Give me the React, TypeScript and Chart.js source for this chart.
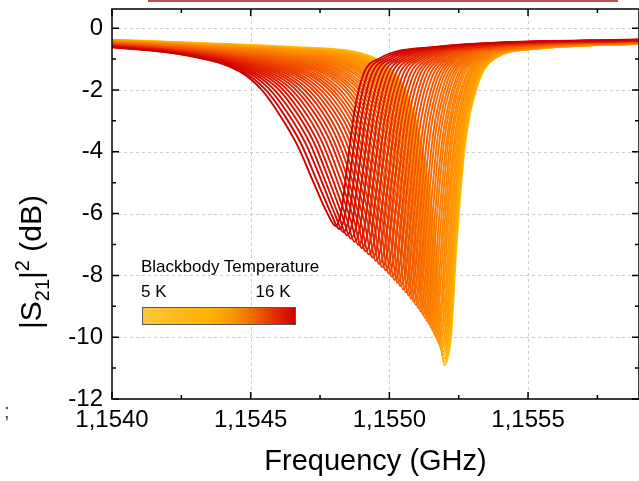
import React, { useEffect, useRef } from 'react';
import { Chart, registerables } from 'chart.js';

Chart.register(...registerables);

// Blackbody temperature of each trace (K)
const temperaturesK = [
  5, 5.25, 5.5, 5.75, 6, 6.25, 6.5, 6.75, 7, 7.25, 7.5, 7.75, 8, 8.25, 8.5, 8.75, 9, 9.25, 9.5, 9.75, 10, 10.25, 10.5,
  10.75, 11, 11.25, 11.5, 11.75, 12, 12.25, 12.5, 12.75, 13, 13.25, 13.5, 13.75, 14, 14.25, 14.5, 14.75, 15, 15.25, 15.5, 15.75, 16,
];

// Frequency samples (GHz) of each trace
const freqGHz: number[][] = [
  [1.153957, 1.154317, 1.154676, 1.154892, 1.155000, 1.155072, 1.155126, 1.155169, 1.155198, 1.155223, 1.155241, 1.155270, 1.155316, 1.155378, 1.155540, 1.155935],
  [1.153957, 1.154317, 1.154675, 1.154890, 1.154998, 1.155070, 1.155124, 1.155167, 1.155196, 1.155221, 1.155239, 1.155268, 1.155314, 1.155376, 1.155538, 1.155935],
  [1.153957, 1.154317, 1.154674, 1.154889, 1.154997, 1.155069, 1.155123, 1.155166, 1.155195, 1.155220, 1.155238, 1.155267, 1.155313, 1.155375, 1.155537, 1.155935],
  [1.153957, 1.154316, 1.154672, 1.154886, 1.154994, 1.155066, 1.155120, 1.155163, 1.155192, 1.155217, 1.155235, 1.155264, 1.155310, 1.155372, 1.155534, 1.155935],
  [1.153957, 1.154316, 1.154671, 1.154884, 1.154991, 1.155063, 1.155117, 1.155161, 1.155190, 1.155214, 1.155233, 1.155261, 1.155307, 1.155369, 1.155531, 1.155935],
  [1.153957, 1.154316, 1.154669, 1.154880, 1.154987, 1.155059, 1.155113, 1.155157, 1.155186, 1.155210, 1.155229, 1.155257, 1.155303, 1.155365, 1.155527, 1.155935],
  [1.153957, 1.154316, 1.154667, 1.154877, 1.154984, 1.155055, 1.155110, 1.155153, 1.155182, 1.155207, 1.155225, 1.155254, 1.155299, 1.155361, 1.155524, 1.155935],
  [1.153957, 1.154315, 1.154664, 1.154873, 1.154979, 1.155050, 1.155105, 1.155148, 1.155177, 1.155202, 1.155220, 1.155249, 1.155294, 1.155356, 1.155519, 1.155935],
  [1.153957, 1.154315, 1.154662, 1.154869, 1.154974, 1.155046, 1.155100, 1.155143, 1.155172, 1.155197, 1.155215, 1.155244, 1.155289, 1.155351, 1.155514, 1.155935],
  [1.153957, 1.154314, 1.154659, 1.154864, 1.154968, 1.155040, 1.155094, 1.155137, 1.155166, 1.155191, 1.155209, 1.155238, 1.155283, 1.155345, 1.155508, 1.155935],
  [1.153957, 1.154314, 1.154656, 1.154859, 1.154963, 1.155034, 1.155089, 1.155132, 1.155161, 1.155186, 1.155204, 1.155233, 1.155278, 1.155339, 1.155503, 1.155935],
  [1.153957, 1.154313, 1.154652, 1.154853, 1.154956, 1.155028, 1.155082, 1.155126, 1.155155, 1.155179, 1.155198, 1.155226, 1.155271, 1.155332, 1.155496, 1.155935],
  [1.153957, 1.154313, 1.154649, 1.154848, 1.154950, 1.155022, 1.155076, 1.155120, 1.155149, 1.155173, 1.155192, 1.155220, 1.155265, 1.155326, 1.155490, 1.155935],
  [1.153957, 1.154312, 1.154645, 1.154842, 1.154943, 1.155014, 1.155069, 1.155113, 1.155142, 1.155166, 1.155185, 1.155213, 1.155257, 1.155319, 1.155483, 1.155935],
  [1.153957, 1.154311, 1.154641, 1.154836, 1.154937, 1.155007, 1.155062, 1.155106, 1.155135, 1.155160, 1.155178, 1.155207, 1.155250, 1.155312, 1.155477, 1.155935],
  [1.153957, 1.154310, 1.154637, 1.154829, 1.154929, 1.155000, 1.155054, 1.155098, 1.155127, 1.155152, 1.155170, 1.155199, 1.155242, 1.155304, 1.155469, 1.155935],
  [1.153957, 1.154310, 1.154633, 1.154822, 1.154922, 1.154992, 1.155047, 1.155091, 1.155120, 1.155145, 1.155163, 1.155192, 1.155235, 1.155296, 1.155462, 1.155935],
  [1.153957, 1.154309, 1.154628, 1.154815, 1.154913, 1.154984, 1.155039, 1.155083, 1.155112, 1.155136, 1.155155, 1.155183, 1.155226, 1.155287, 1.155453, 1.155935],
  [1.153957, 1.154308, 1.154624, 1.154808, 1.154905, 1.154976, 1.155031, 1.155075, 1.155104, 1.155128, 1.155147, 1.155175, 1.155218, 1.155279, 1.155445, 1.155935],
  [1.153957, 1.154307, 1.154619, 1.154800, 1.154896, 1.154967, 1.155022, 1.155066, 1.155095, 1.155119, 1.155138, 1.155166, 1.155209, 1.155270, 1.155436, 1.155935],
  [1.153957, 1.154307, 1.154615, 1.154792, 1.154888, 1.154958, 1.155013, 1.155058, 1.155087, 1.155111, 1.155130, 1.155158, 1.155200, 1.155261, 1.155428, 1.155935],
  [1.153957, 1.154306, 1.154610, 1.154784, 1.154878, 1.154948, 1.155003, 1.155049, 1.155078, 1.155101, 1.155121, 1.155148, 1.155190, 1.155251, 1.155418, 1.155935],
  [1.153957, 1.154305, 1.154605, 1.154776, 1.154869, 1.154939, 1.154994, 1.155040, 1.155069, 1.155092, 1.155112, 1.155139, 1.155181, 1.155241, 1.155409, 1.155935],
  [1.153957, 1.154304, 1.154599, 1.154767, 1.154859, 1.154929, 1.154984, 1.155030, 1.155059, 1.155082, 1.155102, 1.155129, 1.155171, 1.155231, 1.155399, 1.155935],
  [1.153957, 1.154303, 1.154594, 1.154759, 1.154850, 1.154919, 1.154975, 1.155020, 1.155049, 1.155073, 1.155092, 1.155120, 1.155161, 1.155221, 1.155390, 1.155935],
  [1.153957, 1.154302, 1.154588, 1.154749, 1.154839, 1.154908, 1.154964, 1.155010, 1.155039, 1.155062, 1.155082, 1.155109, 1.155150, 1.155210, 1.155379, 1.155935],
  [1.153957, 1.154301, 1.154583, 1.154740, 1.154829, 1.154898, 1.154954, 1.155000, 1.155029, 1.155052, 1.155072, 1.155099, 1.155139, 1.155200, 1.155369, 1.155935],
  [1.153957, 1.154300, 1.154577, 1.154730, 1.154818, 1.154887, 1.154943, 1.154989, 1.155018, 1.155041, 1.155061, 1.155088, 1.155128, 1.155188, 1.155358, 1.155935],
  [1.153957, 1.154300, 1.154571, 1.154721, 1.154808, 1.154876, 1.154932, 1.154979, 1.155008, 1.155031, 1.155051, 1.155078, 1.155117, 1.155177, 1.155348, 1.155935],
  [1.153957, 1.154298, 1.154565, 1.154711, 1.154796, 1.154865, 1.154921, 1.154968, 1.154997, 1.155019, 1.155040, 1.155066, 1.155105, 1.155165, 1.155336, 1.155935],
  [1.153957, 1.154297, 1.154559, 1.154701, 1.154785, 1.154854, 1.154910, 1.154957, 1.154986, 1.155008, 1.155029, 1.155055, 1.155094, 1.155154, 1.155325, 1.155935],
  [1.153957, 1.154296, 1.154552, 1.154691, 1.154773, 1.154842, 1.154898, 1.154945, 1.154974, 1.154996, 1.155017, 1.155043, 1.155082, 1.155141, 1.155313, 1.155935],
  [1.153957, 1.154295, 1.154546, 1.154681, 1.154762, 1.154830, 1.154886, 1.154934, 1.154963, 1.154985, 1.155006, 1.155032, 1.155070, 1.155129, 1.155302, 1.155935],
  [1.153957, 1.154294, 1.154539, 1.154670, 1.154750, 1.154817, 1.154874, 1.154922, 1.154951, 1.154973, 1.154994, 1.155020, 1.155057, 1.155116, 1.155290, 1.155935],
  [1.153957, 1.154293, 1.154533, 1.154659, 1.154738, 1.154805, 1.154862, 1.154910, 1.154939, 1.154961, 1.154982, 1.155008, 1.155045, 1.155104, 1.155278, 1.155935],
  [1.153957, 1.154292, 1.154526, 1.154648, 1.154725, 1.154792, 1.154849, 1.154897, 1.154926, 1.154948, 1.154969, 1.154995, 1.155032, 1.155091, 1.155265, 1.155935],
  [1.153957, 1.154291, 1.154519, 1.154637, 1.154713, 1.154780, 1.154837, 1.154885, 1.154914, 1.154936, 1.154957, 1.154983, 1.155019, 1.155078, 1.155253, 1.155935],
  [1.153957, 1.154290, 1.154512, 1.154625, 1.154700, 1.154766, 1.154823, 1.154872, 1.154901, 1.154923, 1.154944, 1.154970, 1.155005, 1.155064, 1.155240, 1.155935],
  [1.153957, 1.154289, 1.154505, 1.154614, 1.154687, 1.154753, 1.154810, 1.154859, 1.154888, 1.154910, 1.154931, 1.154957, 1.154992, 1.155051, 1.155227, 1.155935],
  [1.153957, 1.154287, 1.154498, 1.154602, 1.154673, 1.154739, 1.154796, 1.154845, 1.154874, 1.154896, 1.154917, 1.154943, 1.154978, 1.155037, 1.155213, 1.155935],
  [1.153957, 1.154286, 1.154491, 1.154590, 1.154660, 1.154726, 1.154783, 1.154832, 1.154861, 1.154883, 1.154904, 1.154930, 1.154964, 1.155023, 1.155200, 1.155935],
  [1.153957, 1.154285, 1.154483, 1.154577, 1.154646, 1.154712, 1.154769, 1.154818, 1.154847, 1.154869, 1.154890, 1.154916, 1.154949, 1.155008, 1.155186, 1.155935],
  [1.153957, 1.154284, 1.154475, 1.154565, 1.154632, 1.154698, 1.154756, 1.154805, 1.154834, 1.154855, 1.154877, 1.154902, 1.154935, 1.154994, 1.155172, 1.155935],
  [1.153957, 1.154282, 1.154467, 1.154552, 1.154618, 1.154683, 1.154741, 1.154791, 1.154820, 1.154841, 1.154863, 1.154888, 1.154920, 1.154979, 1.155158, 1.155935],
  [1.153957, 1.154281, 1.154460, 1.154540, 1.154604, 1.154669, 1.154727, 1.154777, 1.154806, 1.154827, 1.154849, 1.154874, 1.154906, 1.154964, 1.155144, 1.155935],
];

// |S21|^2 (dB) of each trace at the frequencies above
const s21dB: number[][] = [
  [-0.36, -0.48, -0.62, -0.80, -1.30, -2.30, -4.20, -7.20, -10.90, -9.90, -7.20, -4.00, -1.90, -1.00, -0.66, -0.50],
  [-0.365, -0.49, -0.64, -0.825, -1.335, -2.335, -4.22, -7.175, -10.80, -9.81, -7.135, -3.97, -1.89, -1.00, -0.66, -0.495],
  [-0.37, -0.50, -0.66, -0.85, -1.37, -2.37, -4.24, -7.15, -10.70, -9.72, -7.07, -3.94, -1.88, -1.00, -0.66, -0.49],
  [-0.375, -0.51, -0.675, -0.88, -1.405, -2.405, -4.255, -7.12, -10.595, -9.63, -7.01, -3.91, -1.87, -1.00, -0.66, -0.49],
  [-0.38, -0.52, -0.69, -0.91, -1.44, -2.44, -4.27, -7.09, -10.49, -9.54, -6.95, -3.88, -1.86, -1.00, -0.66, -0.49],
  [-0.385, -0.53, -0.71, -0.935, -1.47, -2.47, -4.29, -7.065, -10.39, -9.445, -6.885, -3.85, -1.855, -1.00, -0.655, -0.485],
  [-0.39, -0.54, -0.73, -0.96, -1.50, -2.50, -4.31, -7.04, -10.29, -9.35, -6.82, -3.82, -1.85, -1.00, -0.65, -0.48],
  [-0.395, -0.55, -0.745, -0.99, -1.535, -2.535, -4.33, -7.01, -10.185, -9.26, -6.755, -3.79, -1.84, -1.00, -0.65, -0.475],
  [-0.40, -0.56, -0.76, -1.02, -1.57, -2.57, -4.35, -6.98, -10.08, -9.17, -6.69, -3.76, -1.83, -1.00, -0.65, -0.47],
  [-0.405, -0.57, -0.78, -1.045, -1.605, -2.605, -4.365, -6.955, -9.98, -9.08, -6.625, -3.73, -1.82, -1.00, -0.65, -0.47],
  [-0.41, -0.58, -0.80, -1.07, -1.64, -2.64, -4.38, -6.93, -9.88, -8.99, -6.56, -3.70, -1.81, -1.00, -0.65, -0.47],
  [-0.415, -0.585, -0.815, -1.10, -1.675, -2.675, -4.40, -6.90, -9.775, -8.90, -6.50, -3.675, -1.805, -1.00, -0.65, -0.465],
  [-0.42, -0.59, -0.83, -1.13, -1.71, -2.71, -4.42, -6.87, -9.67, -8.81, -6.44, -3.65, -1.80, -1.00, -0.65, -0.46],
  [-0.425, -0.60, -0.85, -1.155, -1.745, -2.745, -4.435, -6.845, -9.57, -8.72, -6.375, -3.62, -1.79, -1.00, -0.65, -0.46],
  [-0.43, -0.61, -0.87, -1.18, -1.78, -2.78, -4.45, -6.82, -9.47, -8.63, -6.31, -3.59, -1.78, -1.00, -0.65, -0.46],
  [-0.435, -0.62, -0.885, -1.21, -1.815, -2.815, -4.47, -6.79, -9.365, -8.54, -6.245, -3.56, -1.77, -1.00, -0.65, -0.455],
  [-0.44, -0.63, -0.90, -1.24, -1.85, -2.85, -4.49, -6.76, -9.26, -8.45, -6.18, -3.53, -1.76, -1.00, -0.65, -0.45],
  [-0.445, -0.64, -0.92, -1.265, -1.88, -2.88, -4.51, -6.735, -9.16, -8.355, -6.115, -3.50, -1.75, -1.00, -0.645, -0.445],
  [-0.45, -0.65, -0.94, -1.29, -1.91, -2.91, -4.53, -6.71, -9.06, -8.26, -6.05, -3.47, -1.74, -1.00, -0.64, -0.44],
  [-0.455, -0.66, -0.955, -1.32, -1.945, -2.945, -4.545, -6.68, -8.955, -8.17, -5.99, -3.44, -1.73, -1.00, -0.64, -0.44],
  [-0.46, -0.67, -0.97, -1.35, -1.98, -2.98, -4.56, -6.65, -8.85, -8.08, -5.93, -3.41, -1.72, -1.00, -0.64, -0.44],
  [-0.465, -0.68, -0.99, -1.375, -2.015, -3.015, -4.58, -6.625, -8.75, -7.99, -5.865, -3.38, -1.71, -0.995, -0.64, -0.435],
  [-0.47, -0.69, -1.01, -1.40, -2.05, -3.05, -4.60, -6.60, -8.65, -7.90, -5.80, -3.35, -1.70, -0.99, -0.64, -0.43],
  [-0.475, -0.70, -1.03, -1.425, -2.085, -3.085, -4.62, -6.575, -8.55, -7.81, -5.735, -3.32, -1.69, -0.99, -0.64, -0.425],
  [-0.48, -0.71, -1.05, -1.45, -2.12, -3.12, -4.64, -6.55, -8.45, -7.72, -5.67, -3.29, -1.68, -0.99, -0.64, -0.42],
  [-0.485, -0.72, -1.065, -1.48, -2.155, -3.155, -4.655, -6.52, -8.345, -7.63, -5.61, -3.26, -1.67, -0.99, -0.64, -0.42],
  [-0.49, -0.73, -1.08, -1.51, -2.19, -3.19, -4.67, -6.49, -8.24, -7.54, -5.55, -3.23, -1.66, -0.99, -0.64, -0.42],
  [-0.495, -0.74, -1.10, -1.535, -2.22, -3.22, -4.69, -6.465, -8.14, -7.445, -5.485, -3.20, -1.65, -0.99, -0.635, -0.415],
  [-0.50, -0.75, -1.12, -1.56, -2.25, -3.25, -4.71, -6.44, -8.04, -7.35, -5.42, -3.17, -1.64, -0.99, -0.63, -0.41],
  [-0.505, -0.76, -1.135, -1.59, -2.285, -3.285, -4.73, -6.41, -7.935, -7.26, -5.355, -3.14, -1.635, -0.99, -0.63, -0.405],
  [-0.51, -0.77, -1.15, -1.62, -2.32, -3.32, -4.75, -6.38, -7.83, -7.17, -5.29, -3.11, -1.63, -0.99, -0.63, -0.40],
  [-0.515, -0.78, -1.17, -1.645, -2.355, -3.355, -4.765, -6.355, -7.73, -7.08, -5.225, -3.08, -1.62, -0.99, -0.63, -0.40],
  [-0.52, -0.79, -1.19, -1.67, -2.39, -3.39, -4.78, -6.33, -7.63, -6.99, -5.16, -3.05, -1.61, -0.99, -0.63, -0.40],
  [-0.525, -0.795, -1.205, -1.70, -2.425, -3.425, -4.80, -6.30, -7.525, -6.90, -5.10, -3.025, -1.60, -0.99, -0.63, -0.395],
  [-0.53, -0.80, -1.22, -1.73, -2.46, -3.46, -4.82, -6.27, -7.42, -6.81, -5.04, -3.00, -1.59, -0.99, -0.63, -0.39],
  [-0.535, -0.81, -1.24, -1.755, -2.495, -3.495, -4.835, -6.245, -7.32, -6.72, -4.975, -2.97, -1.58, -0.99, -0.63, -0.39],
  [-0.54, -0.82, -1.26, -1.78, -2.53, -3.53, -4.85, -6.22, -7.22, -6.63, -4.91, -2.94, -1.57, -0.99, -0.63, -0.39],
  [-0.545, -0.83, -1.275, -1.81, -2.565, -3.565, -4.87, -6.19, -7.115, -6.54, -4.845, -2.91, -1.56, -0.99, -0.63, -0.385],
  [-0.55, -0.84, -1.29, -1.84, -2.60, -3.60, -4.89, -6.16, -7.01, -6.45, -4.78, -2.88, -1.55, -0.99, -0.63, -0.38],
  [-0.555, -0.85, -1.31, -1.865, -2.63, -3.63, -4.91, -6.135, -6.91, -6.355, -4.715, -2.85, -1.545, -0.99, -0.625, -0.375],
  [-0.56, -0.86, -1.33, -1.89, -2.66, -3.66, -4.93, -6.11, -6.81, -6.26, -4.65, -2.82, -1.54, -0.99, -0.62, -0.37],
  [-0.565, -0.87, -1.345, -1.92, -2.695, -3.695, -4.945, -6.08, -6.705, -6.17, -4.59, -2.79, -1.53, -0.99, -0.62, -0.37],
  [-0.57, -0.88, -1.36, -1.95, -2.73, -3.73, -4.96, -6.05, -6.60, -6.08, -4.53, -2.76, -1.52, -0.99, -0.62, -0.37],
  [-0.575, -0.89, -1.38, -1.975, -2.765, -3.765, -4.98, -6.025, -6.50, -5.99, -4.465, -2.73, -1.51, -0.985, -0.62, -0.365],
  [-0.58, -0.90, -1.40, -2.00, -2.80, -3.80, -5.00, -6.00, -6.40, -5.90, -4.40, -2.70, -1.50, -0.98, -0.62, -0.36],
];

const xAxisTitle = 'Frequency (GHz)';
const legendTitle = 'Blackbody Temperature';
const legendLow = '5 K';
const legendHigh = '16 K';

const FONT = '"Liberation Sans", Arial, Helvetica, sans-serif';

// colour of the traces, cold (0) to hot (1)
const paletteStops: [number, number[]][] = [
  [0, [255, 190, 20]],
  [0.06, [255, 170, 0]],
  [0.2, [255, 142, 0]],
  [0.4, [249, 112, 0]],
  [0.6, [241, 78, 0]],
  [0.8, [228, 38, 0]],
  [1, [206, 0, 0]],
];

function paletteColor(t: number): string {
  for (let i = 1; i < paletteStops.length; i++) {
    const [t1, c1] = paletteStops[i];
    const [t0, c0] = paletteStops[i - 1];
    if (t <= t1) {
      const f = (t - t0) / (t1 - t0 || 1);
      const c = c0.map((v, j) => Math.round(v + (c1[j] - v) * f));
      return `rgb(${c[0]},${c[1]},${c[2]})`;
    }
  }
  const c = paletteStops[paletteStops.length - 1][1];
  return `rgb(${c[0]},${c[1]},${c[2]})`;
}

const framePlugin = {
  id: 'originFrame',
  beforeDatasetsDraw(chart: any) {
    const { ctx, chartArea: a, scales } = chart;
    const xs = scales.x;
    const ys = scales.y;
    ctx.save();
    ctx.strokeStyle = '#cdcdcd';
    ctx.lineWidth = 1;
    ctx.setLineDash([3, 3]);
    xs.ticks.forEach((t: any) => {
      const px = Math.round(xs.getPixelForValue(t.value)) + 0.5;
      if (px <= a.left + 2 || px >= a.right - 2) return;
      ctx.beginPath();
      ctx.moveTo(px, a.top);
      ctx.lineTo(px, a.bottom);
      ctx.stroke();
    });
    ys.ticks.forEach((t: any) => {
      const py = Math.round(ys.getPixelForValue(t.value)) + 0.5;
      if (py <= a.top + 2 || py >= a.bottom - 2) return;
      ctx.beginPath();
      ctx.moveTo(a.left, py);
      ctx.lineTo(a.right, py);
      ctx.stroke();
    });
    ctx.restore();
  },
  afterDatasetsDraw(chart: any) {
    const { ctx, chartArea: a, scales } = chart;
    const xs = scales.x;
    const ys = scales.y;
    ctx.save();
    ctx.strokeStyle = '#000';
    ctx.lineWidth = 1.5;
    ctx.setLineDash([]);
    ctx.strokeRect(a.left, a.top, a.right - a.left, a.bottom - a.top);
    const major = 7;
    const minor = 4;
    const xt = xs.ticks.map((t: any) => t.value);
    const xStep = xt.length > 1 ? xt[1] - xt[0] : 0;
    const xMinor: number[] = xt.map((v: number) => v + xStep / 2).filter((v: number) => v < xs.max);
    const yt = ys.ticks.map((t: any) => t.value);
    const yStep = yt.length > 1 ? yt[1] - yt[0] : 0;
    const yMinor: number[] = yt.map((v: number) => v + yStep / 2).filter((v: number) => v < ys.max);
    ctx.beginPath();
    const drawX = (v: number, len: number) => {
      const px = xs.getPixelForValue(v);
      ctx.moveTo(px, a.bottom);
      ctx.lineTo(px, a.bottom - len);
      ctx.moveTo(px, a.top);
      ctx.lineTo(px, a.top + len);
    };
    const drawY = (v: number, len: number) => {
      const py = ys.getPixelForValue(v);
      ctx.moveTo(a.left, py);
      ctx.lineTo(a.left + len, py);
      ctx.moveTo(a.right, py);
      ctx.lineTo(a.right - len, py);
    };
    xt.forEach((v: number) => drawX(v, major));
    xMinor.forEach((v: number) => drawX(v, minor));
    yt.forEach((v: number) => drawY(v, major));
    yMinor.forEach((v: number) => drawY(v, minor));
    ctx.stroke();
    ctx.restore();
  },
};

export default function App() {
  const canvasRef = useRef<HTMLCanvasElement>(null);

  useEffect(() => {
    const n = temperaturesK.length;
    const datasets = temperaturesK.map((T, k) => ({
      label: `${T} K`,
      data: freqGHz[k].map((f, i) => ({ x: f, y: s21dB[k][i] })),
      borderColor: paletteColor(k / (n - 1)),
      backgroundColor: paletteColor(k / (n - 1)),
      borderWidth: 1.9,
      pointRadius: 0,
      fill: false,
      cubicInterpolationMode: 'monotone' as const,
      order: n - 1 - k,
    }));

    const chart = new Chart(canvasRef.current as HTMLCanvasElement, {
      type: 'line',
      data: { datasets },
      options: {
        animation: false,
        responsive: false,
        maintainAspectRatio: false,
        events: [],
        layout: { padding: { top: 9, right: -1, bottom: 0, left: 0 } },
        plugins: { legend: { display: false }, tooltip: { enabled: false } },
        scales: {
          x: {
            type: 'linear',
            min: 1.154,
            max: 1.1559,
            grid: { display: false, drawTicks: false },
            border: { display: false },
            ticks: {
              stepSize: 0.0005,
              includeBounds: false,
              autoSkip: false,
              maxRotation: 0,
              padding: 7,
              color: '#000',
              font: { family: FONT, size: 24 },
              callback: (v: any) => Number(v).toFixed(4).replace('.', ','),
            },
            title: {
              display: true,
              text: xAxisTitle,
              color: '#000',
              font: { family: FONT, size: 29 },
              padding: { top: 0, bottom: 2 },
            },
            afterFit: (s: any) => {
              s.height = 82;
              s.paddingLeft = 0;
              s.paddingRight = 0;
            },
          },
          y: {
            type: 'linear',
            min: -12,
            max: 0.62,
            grid: { display: false, drawTicks: false },
            border: { display: false },
            ticks: {
              stepSize: 2,
              includeBounds: false,
              padding: 9,
              color: '#000',
              font: { family: FONT, size: 24 },
              callback: (v: any) => String(v),
            },
            afterFit: (s: any) => {
              s.width = 112;
              s.paddingTop = 0;
              s.paddingBottom = 0;
            },
          },
        },
      },
      plugins: [framePlugin],
    } as any);
    return () => chart.destroy();
  }, []);

  return (
    <div style={{ position: 'fixed', left: 0, top: 0, width: 639, height: 481, overflow: 'hidden', background: '#fff', fontFamily: FONT, color: '#000' }}>
      <canvas ref={canvasRef} width={639} height={481} style={{ position: 'absolute', left: 0, top: 0, width: 639, height: 481 }} />
      <div style={{ position: 'absolute', left: 148, top: 0, width: 470, height: 2, background: '#c0504d' }} />
      <div style={{ position: 'absolute', left: 4, top: 401, fontSize: 20, lineHeight: '20px', color: '#444' }}>;</div>
      <div
        style={{
          position: 'absolute',
          left: 32,
          top: 262,
          transform: 'translate(-50%, -50%) rotate(-90deg)',
          whiteSpace: 'nowrap',
          fontSize: 30,
          lineHeight: '30px',
        }}
      >
        |S<span style={{ fontSize: 20, position: 'relative', top: 8 }}>21</span>|
        <span style={{ fontSize: 20, position: 'relative', top: -12 }}>2</span> (dB)
      </div>
      <div style={{ position: 'absolute', left: 141, top: 257.6, fontSize: 17, lineHeight: '17px', whiteSpace: 'nowrap' }}>{legendTitle}</div>
      <div style={{ position: 'absolute', left: 141, top: 283, fontSize: 17, lineHeight: '17px', whiteSpace: 'nowrap' }}>{legendLow}</div>
      <div style={{ position: 'absolute', left: 255.5, top: 283, fontSize: 17, lineHeight: '17px', whiteSpace: 'nowrap' }}>{legendHigh}</div>
      <div
        style={{
          position: 'absolute',
          left: 141.5,
          top: 306.5,
          width: 154,
          height: 18,
          boxSizing: 'border-box',
          border: '1px solid #5a5a5a',
          background: 'linear-gradient(to right, #fdc640 0%, #feb91a 25%, #ffb400 42%, #fa9a00 58%, #f06a00 72%, #e43000 86%, #cc0000 100%)',
        }}
      />
    </div>
  );
}
